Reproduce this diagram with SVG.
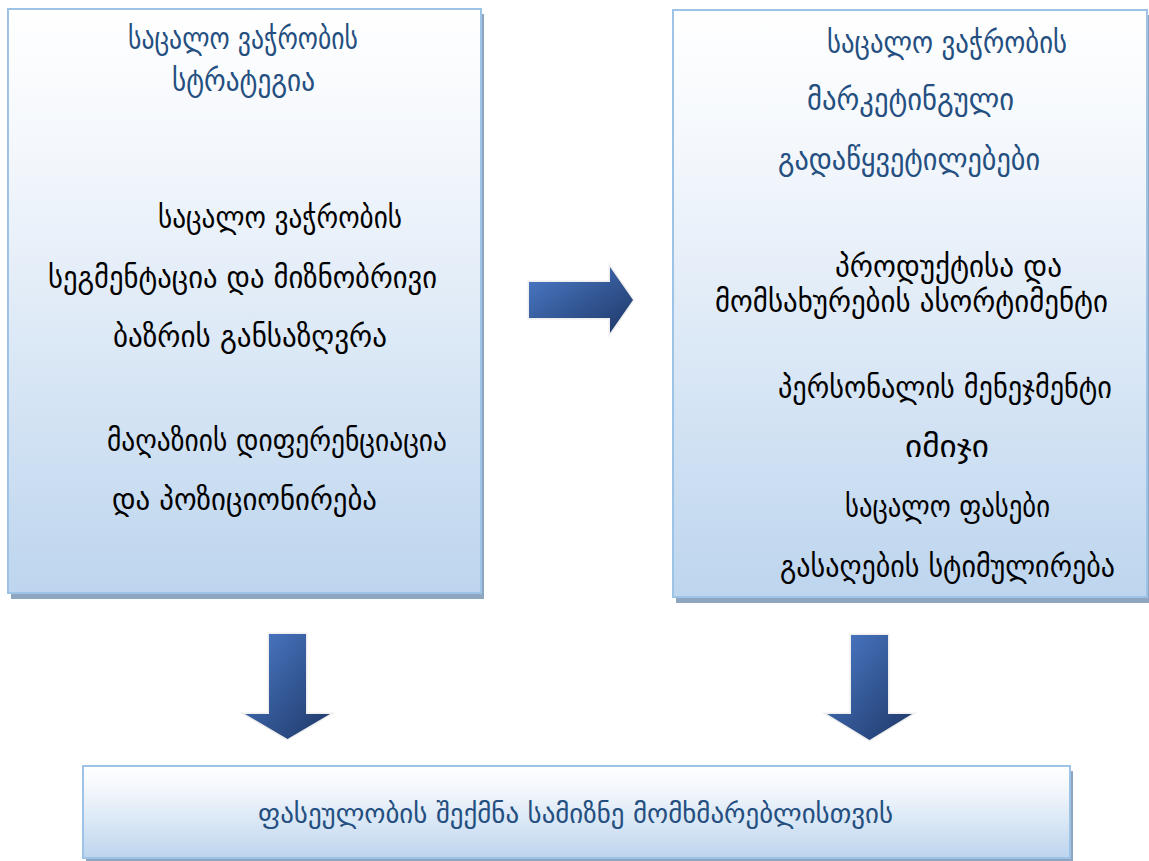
<svg xmlns="http://www.w3.org/2000/svg" width="1149" height="861" viewBox="0 0 1149 861">
  <defs>
    <linearGradient id="boxGrad" x1="0" y1="0" x2="0" y2="1">
      <stop offset="0" stop-color="#ffffff"/>
      <stop offset="0.25" stop-color="#f3f7fc"/>
      <stop offset="1" stop-color="#bdd5ee"/>
    </linearGradient>
    <linearGradient id="arrowGrad" x1="0" y1="0" x2="1" y2="1">
      <stop offset="0" stop-color="#4d7cca"/>
      <stop offset="1" stop-color="#1d3766"/>
    </linearGradient>
    <style>
      .shadow { fill: #8ea6bf; }
      .box { fill: url(#boxGrad); stroke: #9dc3e6; stroke-width: 2; }
      .arrow { fill: url(#arrowGrad); stroke: #eeeeee; stroke-width: 3; stroke-linejoin: miter; paint-order: stroke; }
      .t { font-family: "DejaVu Sans", "Noto Sans", sans-serif; font-size: 30px; fill: #000000; }
      .h { font-family: "DejaVu Sans", "Noto Sans", sans-serif; font-size: 30px; fill: #244f80; }
      .b { font-family: "DejaVu Sans", "Noto Sans", sans-serif; font-size: 28px; fill: #244f80; }
    </style>
  </defs>
  <rect width="1149" height="861" fill="#ffffff"/>

  <g id="strategy">
    <rect class="shadow" x="11" y="14" width="473" height="585"/>
    <rect class="box" x="8" y="9" width="473" height="584"/>
    <text class="h" x="128" y="49" textLength="230" lengthAdjust="spacingAndGlyphs">საცალო ვაჭრობის</text>
    <text class="h" x="172" y="91" textLength="143" lengthAdjust="spacingAndGlyphs">სტრატეგია</text>
    <text class="t" x="158" y="228" textLength="244" lengthAdjust="spacingAndGlyphs">საცალო ვაჭრობის</text>
    <text class="t" x="48" y="288" textLength="389" lengthAdjust="spacingAndGlyphs">სეგმენტაცია და მიზნობრივი</text>
    <text class="t" x="113" y="347" textLength="274" lengthAdjust="spacingAndGlyphs">ბაზრის განსაზღვრა</text>
    <text class="t" x="107" y="451" textLength="340" lengthAdjust="spacingAndGlyphs">მაღაზიის დიფერენციაცია</text>
    <text class="t" x="112" y="510" textLength="265" lengthAdjust="spacingAndGlyphs">და პოზიციონირება</text>
  </g>

  <g id="decisions">
    <rect class="shadow" x="676" y="15" width="473" height="588"/>
    <rect class="box" x="673" y="10" width="474" height="587"/>
    <text class="h" x="827" y="53" textLength="240" lengthAdjust="spacingAndGlyphs">საცალო ვაჭრობის</text>
    <text class="h" x="807" y="110" textLength="207" lengthAdjust="spacingAndGlyphs">მარკეტინგული</text>
    <text class="h" x="778" y="170" textLength="262" lengthAdjust="spacingAndGlyphs">გადაწყვეტილებები</text>
    <text class="t" x="835" y="277" textLength="227" lengthAdjust="spacingAndGlyphs">პროდუქტისა და</text>
    <text class="t" x="715" y="312" textLength="393" lengthAdjust="spacingAndGlyphs">მომსახურების ასორტიმენტი</text>
    <text class="t" x="778" y="398" textLength="334" lengthAdjust="spacingAndGlyphs">პერსონალის მენეჯმენტი</text>
    <text class="t" x="905" y="457" textLength="84" lengthAdjust="spacingAndGlyphs">იმიჯი</text>
    <text class="t" x="845" y="517" textLength="205" lengthAdjust="spacingAndGlyphs">საცალო ფასები</text>
    <text class="t" x="780" y="577" textLength="335" lengthAdjust="spacingAndGlyphs">გასაღების სტიმულირება</text>
  </g>

  <g id="value">
    <rect class="shadow" x="86" y="771" width="987" height="90"/>
    <rect class="box" x="83" y="766" width="987" height="92"/>
    <text class="b" x="258" y="823" textLength="635" lengthAdjust="spacingAndGlyphs">ფასეულობის შექმნა სამიზნე მომხმარებლისთვის</text>
  </g>

  <g id="connectors">
    <polygon class="arrow" points="529,282 610,282 610,267 633,300 610,333 610,318 529,318"/>
    <polygon class="arrow" points="269,634 306,634 306,714 330,714 287.5,739 245,714 269,714"/>
    <polygon class="arrow" points="851,635 888,635 888,714 912,714 869.5,740 827,714 851,714"/>
  </g>
</svg>
